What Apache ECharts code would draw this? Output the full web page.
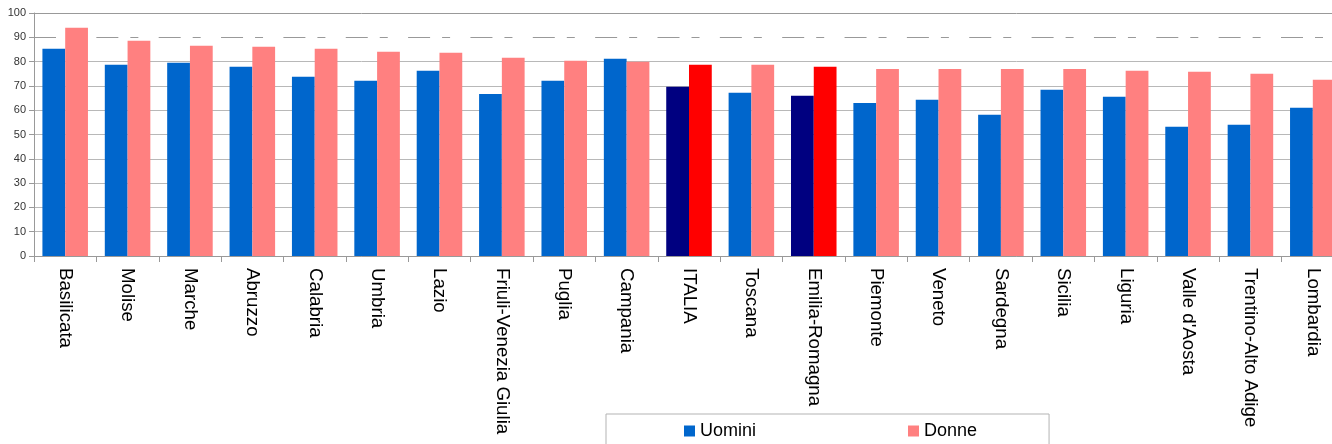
<!DOCTYPE html>
<html>
<head>
<meta charset="utf-8">
<script src="https://cdn.jsdelivr.net/npm/echarts@6/dist/echarts.min.js"></script>
<style>html,body{margin:0;padding:0;background:#fff;overflow:hidden;width:1332px;height:444px;}#c{width:1344px;height:444px;}</style>
</head>
<body>
<div id="c"></div>
<script>
var categories = ["Basilicata","Molise","Marche","Abruzzo","Calabria","Umbria","Lazio","Friuli-Venezia Giulia","Puglia","Campania","ITALIA","Toscana","Emilia-Romagna","Piemonte","Veneto","Sardegna","Sicilia","Liguria","Valle d'Aosta","Trentino-Alto Adige","Lombardia"];
var uomini = [85.3,78.7,79.5,77.9,73.8,72.1,76.2,66.7,72.1,81.2,69.6,67.2,65.9,63.0,64.3,58.1,68.4,65.5,53.2,54.0,61.0];
var donne  = [93.9,88.6,86.5,86.1,85.3,84.1,83.6,81.6,80.3,79.9,78.7,78.7,77.9,77.0,77.0,77.0,77.0,76.2,75.8,75.0,72.5];
var highlighted = ["ITALIA","Emilia-Romagna"];
var yTicks = [0,10,20,30,40,50,60,70,80,90,100];

var C_U = '#0066cc', C_D = '#ff8080', C_UH = '#000080', C_DH = '#ff0000';

function build(vals, hi) {
  return vals.map(function (v, i) {
    return highlighted.indexOf(categories[i]) >= 0 ? {value: v, itemStyle: {color: hi}} : v;
  });
}
var gridColors = yTicks.map(function (t) { return t === 90 ? 'transparent' : (t === 100 ? '#999999' : '#b8b8b8'); });

var chart = echarts.init(document.getElementById('c'), null, {renderer: 'canvas'});
chart.setOption({
  animation: false,
  backgroundColor: '#ffffff',
  textStyle: {fontFamily: 'Liberation Sans'},
  grid: {left: 34, top: 13, bottom: 188, right: 0, containLabel: false},
  legend: {
    left: 606, top: 414,
    data: ['Uomini', 'Donne'],
    itemWidth: 11, itemHeight: 11, itemGap: 152,
    icon: 'rect',
    padding: [8, 72, 20, 78],
    borderColor: '#b3b3b3', borderWidth: 1,
    textStyle: {fontSize: 18, color: '#000', fontFamily: 'Liberation Sans'}
  },
  xAxis: {
    type: 'category', data: categories,
    axisLine: {show: true, lineStyle: {color: '#999999', width: 1}},
    axisTick: {show: true, length: 6, alignWithLabel: false, lineStyle: {color: '#999999'}},
    axisLabel: {rotate: -90, margin: 12, fontSize: 18.7, color: '#000', fontFamily: 'Liberation Sans', interval: 0},
    splitLine: {show: false}
  },
  yAxis: {
    type: 'value', min: 0, max: 100, interval: 10,
    axisLine: {show: true, lineStyle: {color: '#999999'}},
    axisTick: {show: true, length: 5, lineStyle: {color: '#999999'}},
    axisLabel: {fontSize: 11, color: '#333', margin: 8, fontFamily: 'Liberation Sans'},
    splitLine: {show: true, lineStyle: {color: gridColors, width: 1}}
  },
  series: [
    {
      name: 'Uomini', type: 'bar', data: build(uomini, C_UH),
      itemStyle: {color: C_U}, barGap: '0%', barCategoryGap: '27%',
      markLine: {
        silent: true, symbol: 'none', label: {show: false},
        lineStyle: {color: '#999999', width: 1, type: [22, 12, 8, 20.35]},
        data: [{yAxis: 90}], z: 0
      },
      z: 2
    },
    {
      name: 'Donne', type: 'bar', data: build(donne, C_DH),
      itemStyle: {color: C_D}, z: 2
    }
  ]
});
</script>
</body>
</html>
